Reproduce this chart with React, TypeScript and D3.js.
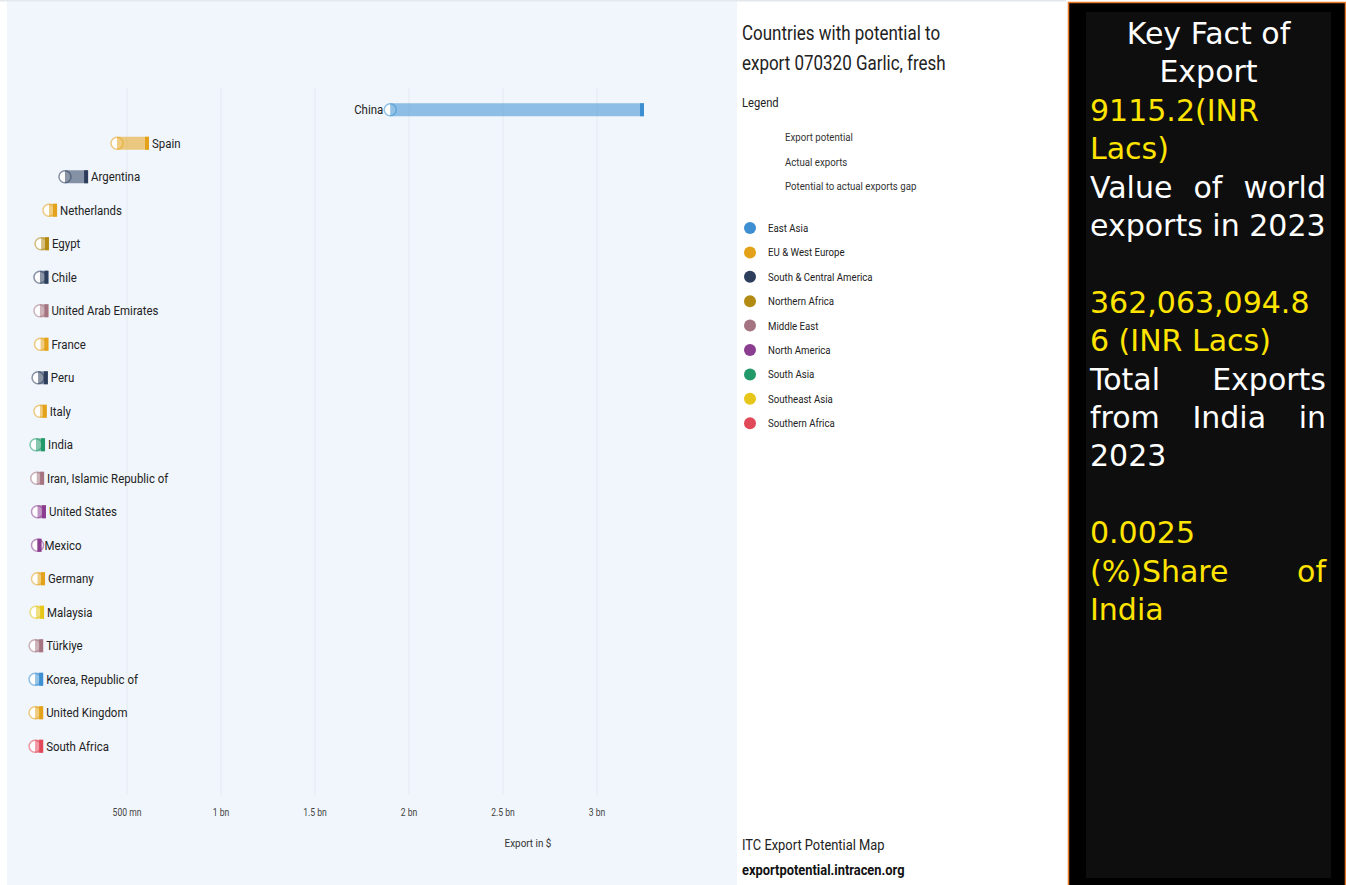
import React, { useMemo } from 'react';
import * as d3 from 'd3';

// ---------------- DATA ----------------
const countries = [
  'China', 'Spain', 'Argentina', 'Netherlands', 'Egypt', 'Chile', 'United Arab Emirates', 'France', 'Peru', 'Italy',
  'India', 'Iran, Islamic Republic of', 'United States', 'Mexico', 'Germany', 'Malaysia', 'Türkiye',
  'Korea, Republic of', 'United Kingdom', 'South Africa',
];
const countryRegion = [
  'East Asia', 'EU & West Europe', 'South & Central America', 'EU & West Europe', 'Northern Africa',
  'South & Central America', 'Middle East', 'EU & West Europe', 'South & Central America', 'EU & West Europe',
  'South Asia', 'Middle East', 'North America', 'North America', 'EU & West Europe', 'Southeast Asia',
  'Middle East', 'East Asia', 'EU & West Europe', 'Southern Africa',
];
// USD millions
const actualExports = [1900, 447, 170, 85, 43, 37, 37, 40, 27, 37, 16, 20, 24, 24, 24, 16, 11, 11, 11, 11];
const exportPotential = [3250, 617, 293, 128, 85, 82, 82, 82, 79, 73, 64, 59, 69, 45, 64, 59, 54, 54, 54, 54];

const regions = [
  'East Asia', 'EU & West Europe', 'South & Central America', 'Northern Africa', 'Middle East',
  'North America', 'South Asia', 'Southeast Asia', 'Southern Africa',
];
const regionColors = ['#3d8fd1', '#e3a21a', '#2c3e5c', '#b38b12', '#a47480', '#8b3d8f', '#23996a', '#e6c619', '#e14958'];

const xTickValues = [500, 1000, 1500, 2000, 2500, 3000];
const xTickLabels = ['500 mn', '1 bn', '1.5 bn', '2 bn', '2.5 bn', '3 bn'];

const legendItems = ['Export potential', 'Actual exports', 'Potential to actual exports gap'];

const factLines = [
  { text: 'Key Fact of', color: 'white', align: 'center' },
  { text: 'Export', color: 'white', align: 'center' },
  { text: '9115.2(INR', color: 'yellow', align: 'left' },
  { text: 'Lacs)', color: 'yellow', align: 'left' },
  { text: 'Value of world', color: 'white', align: 'justify' },
  { text: 'exports in 2023', color: 'white', align: 'left' },
  { text: '', color: 'white', align: 'left' },
  { text: '362,063,094.8', color: 'yellow', align: 'left' },
  { text: '6 (INR Lacs)', color: 'yellow', align: 'left' },
  { text: 'Total Exports', color: 'white', align: 'justify' },
  { text: 'from India in', color: 'white', align: 'justify' },
  { text: '2023', color: 'white', align: 'left' },
  { text: '', color: 'white', align: 'left' },
  { text: '0.0025', color: 'yellow', align: 'left' },
  { text: '(%)Share of', color: 'yellow', align: 'justify' },
  { text: 'India', color: 'yellow', align: 'left' },
];

// ---------------- HELPERS ----------------
const COND = 'Roboto, "Liberation Sans", sans-serif';

function CText({ x, y, sx = 0.86, anchor = 'start', children, ...rest }: any) {
  return (
    <text transform={`translate(${x},${y}) scale(${sx},1)`} textAnchor={anchor} {...rest}>
      {children}
    </text>
  );
}

let _ctx: CanvasRenderingContext2D | null = null;
function measure(text: string, font: string) {
  if (!_ctx) _ctx = document.createElement('canvas').getContext('2d');
  if (!_ctx) return text.length * 15;
  _ctx.font = font;
  return _ctx.measureText(text).width;
}

export default function App() {
  const W = 1346, H = 885;
  const x = d3.scaleLinear().domain([0, 3000]).range([33, 597]);
  const y = d3.scaleBand<string>().domain(countries).range([93, 763]);
  const colorOf = d3.scaleOrdinal<string, string>().domain(regions).range(regionColors);

  const factFont = '30px "DejaVu Sans"';
  const factLeft = 1090, factRight = 1326, factCenter = 1208.5;
  const lineH = 38.4, firstBase = 44;

  const factEls = useMemo(() => {
    return factLines.map((ln, i) => {
      const by = firstBase + i * lineH;
      const fill = ln.color === 'yellow' ? '#ffe400' : '#ffffff';
      if (!ln.text) return null;
      if (ln.align === 'center') {
        return <text key={i} x={factCenter} y={by} textAnchor="middle" fill={fill}>{ln.text}</text>;
      }
      if (ln.align === 'justify') {
        const words = ln.text.split(' ');
        const widths = words.map((w) => measure(w, factFont));
        const total = widths.reduce((a, b) => a + b, 0);
        const gap = (factRight - factLeft - total) / (words.length - 1);
        let cx = factLeft;
        return (
          <g key={i} fill={fill}>
            {words.map((w, j) => {
              const px = cx;
              cx += widths[j] + gap;
              return <text key={j} x={px} y={by}>{w}</text>;
            })}
          </g>
        );
      }
      return <text key={i} x={factLeft} y={by} fill={fill}>{ln.text}</text>;
    });
  }, []);

  const barH = 13;

  return (
    <svg width={W} height={H} style={{ position: 'absolute', left: 0, top: 0, background: '#ffffff' }}>
      {/* left panel */}
      <rect x={7} y={1} width={730} height={H - 1} fill="#f1f6fc" />
      <rect x={0} y={0} width={1066} height={1.5} fill="#e4e7eb" />

      {/* grid lines */}
      {xTickValues.map((v) => (
        <line key={v} x1={x(v)} x2={x(v)} y1={88} y2={795} stroke="#e4eaf2" strokeWidth={1} />
      ))}

      {/* bars */}
      {countries.map((c, i) => {
        const col = colorOf(countryRegion[i]);
        const cy = (y(c) as number) + y.bandwidth() / 2;
        const xa = x(actualExports[i]);
        const xp = x(exportPotential[i]);
        const labelLeft = xp > 400;
        return (
          <g key={c}>
            <circle cx={xa} cy={cy} r={6} fill="#ffffff" stroke={col} strokeOpacity={0.55} strokeWidth={1.5} />
            <rect x={xa} y={cy - barH / 2} width={Math.max(0, xp - xa)} height={barH} fill={col} fillOpacity={0.55} />
            <rect x={xp - 4} y={cy - barH / 2} width={4} height={barH} fill={col} />
            {labelLeft ? (
              <CText x={xa - 7} y={cy + 4.5} sx={0.88} anchor="end" fontFamily={COND} fontSize={13} fill="#222">{c}</CText>
            ) : (
              <CText x={xp + 3} y={cy + 4.5} sx={0.88} fontFamily={COND} fontSize={13} fill="#222">{c}</CText>
            )}
          </g>
        );
      })}

      {/* x axis labels */}
      {xTickValues.map((v, i) => (
        <CText key={v} x={x(v)} y={816} anchor="middle" fontFamily={COND} fontSize={10} fill="#444">{xTickLabels[i]}</CText>
      ))}
      <CText x={528} y={847} anchor="middle" fontFamily={COND} fontSize={11.5} fill="#333">Export in $</CText>

      {/* Title / legend */}
      <CText x={742} y={40} sx={0.87} fontFamily={COND} fontSize={19.5} fill="#222">Countries with potential to</CText>
      <CText x={742} y={70} sx={0.87} fontFamily={COND} fontSize={19.5} fill="#222">export 070320 Garlic, fresh</CText>
      <CText x={742} y={107} fontFamily={COND} fontSize={13} fill="#222">Legend</CText>
      {legendItems.map((t, i) => (
        <CText key={t} x={785} y={141 + i * 24.5} sx={0.84} fontFamily={COND} fontSize={11.5} fill="#333">{t}</CText>
      ))}
      {regions.map((r, i) => (
        <g key={r}>
          <circle cx={750} cy={228 + i * 24.4} r={6} fill={regionColors[i]} />
          <CText x={768} y={232 + i * 24.4} sx={0.84} fontFamily={COND} fontSize={11.5} fill="#222">{r}</CText>
        </g>
      ))}
      <CText x={742} y={850} sx={0.86} fontFamily={COND} fontSize={15} fill="#222">ITC Export Potential Map</CText>
      <CText x={742} y={875} sx={0.86} fontFamily={COND} fontSize={15} fontWeight="bold" fill="#111">exportpotential.intracen.org</CText>

      {/* right panel */}
      <rect x={1068.5} y={2.5} width={277} height={H} fill="#000000" stroke="#e8792a" strokeWidth={1.5} />
      <rect x={1086} y={12} width={245} height={866} fill="#0e0e0e" />
      <g fontFamily='"DejaVu Sans", sans-serif' fontSize={30}>{factEls}</g>
    </svg>
  );
}
